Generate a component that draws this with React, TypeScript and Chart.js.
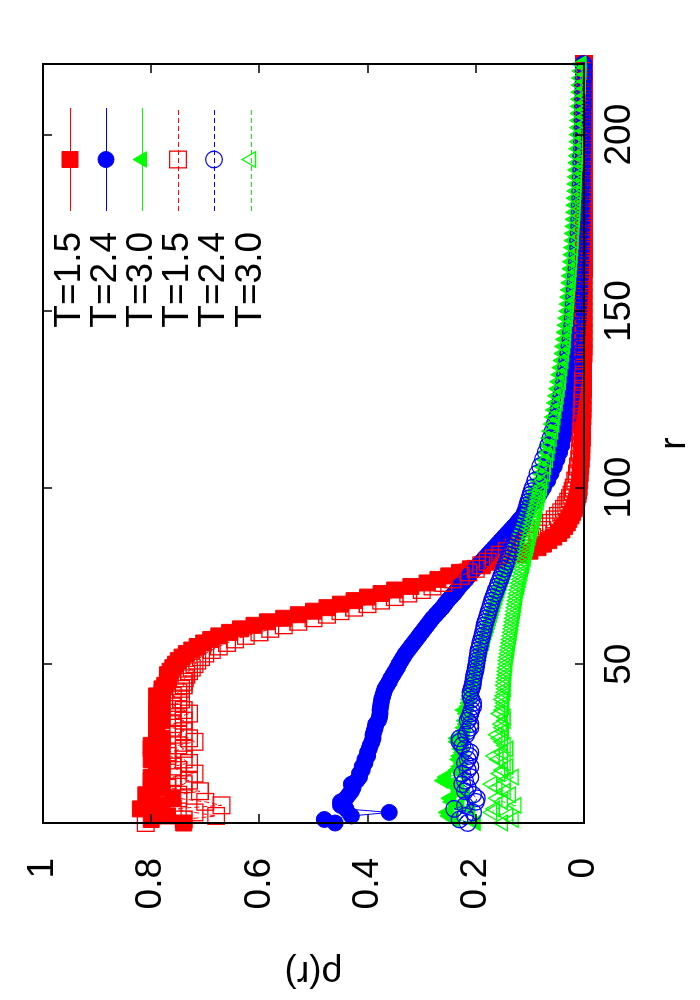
import React, { useEffect, useRef } from "react";
import { Chart, registerables } from "chart.js";

Chart.register(...registerables);

// ---------- data ----------
const rValues = [
  5, 6, 7, 8, 9, 10, 11, 12, 13, 14,
  15, 16, 17, 18, 19, 20, 21, 22, 23, 24,
  25, 26, 27, 28, 29, 30, 31, 32, 33, 34,
  35, 36, 37, 38, 39, 40, 41, 42, 43, 44,
  45, 46, 47, 48, 49, 50, 51, 52, 53, 54,
  55, 56, 57, 58, 59, 60, 61, 62, 63, 64,
  65, 66, 67, 68, 69, 70, 71, 72, 73, 74,
  75, 76, 77, 78, 79, 80, 81, 82, 83, 84,
  85, 86, 87, 88, 89, 90, 91, 92, 93, 94,
  95, 96, 97, 98, 99, 100,
  102, 104, 106, 108, 110, 112, 114, 116, 118, 120,
  122, 124, 126, 128, 130, 132, 134, 136, 138, 140,
  142, 144, 146, 148, 150, 152, 154, 156, 158, 160,
  162, 164, 166, 168, 170, 172, 174, 176, 178, 180,
  182, 184, 186, 188, 190, 192, 194, 196, 198, 200,
  202, 204, 206, 208, 210, 212, 214, 216, 218, 220,
];

const rhoT15Solid = [
  0.74, 0.8, 0.77, 0.79, 0.82, 0.78, 0.8, 0.76, 0.81, 0.8,
  0.79, 0.78, 0.8, 0.8, 0.79, 0.78, 0.78, 0.79, 0.8, 0.78,
  0.79, 0.8, 0.8, 0.78, 0.78, 0.79, 0.79, 0.79, 0.79, 0.78,
  0.78, 0.79, 0.79, 0.78, 0.78, 0.785, 0.79, 0.78, 0.78, 0.775,
  0.77, 0.77, 0.77, 0.765, 0.76, 0.755, 0.75, 0.743, 0.735, 0.725,
  0.715, 0.703, 0.69, 0.675, 0.655, 0.635, 0.61, 0.585, 0.555, 0.528,
  0.5, 0.475, 0.45, 0.425, 0.4, 0.375, 0.35, 0.32, 0.29, 0.27,
  0.25, 0.23, 0.21, 0.188, 0.165, 0.142, 0.12, 0.1, 0.085, 0.075,
  0.065, 0.056, 0.047, 0.041, 0.036, 0.031, 0.028, 0.024, 0.021, 0.018,
  0.016, 0.014, 0.013, 0.011, 0.01, 0.009,
  0.008, 0.007, 0.006, 0.005, 0.004, 0.004, 0.003, 0.003, 0.003, 0.002,
  0.002, 0.002, 0.002, 0.002, 0.001, 0.001, 0.001, 0.001, 0.001, 0.001,
  0.001, 0.001, 0.001, 0.001, 0.001, 0.001, 0.001, 0.001, 0.001, 0.001,
  0, 0, 0, 0, 0, 0, 0, 0, 0, 0,
  0, 0, 0, 0, 0, 0, 0, 0, 0, 0,
  0, 0, 0, 0, 0, 0, 0, 0, 0, 0,
];

const rhoT24Solid = [
  0.46, 0.48, 0.43, 0.36, 0.44, 0.45, 0.45, 0.44, 0.435, 0.43,
  0.427, 0.43, 0.42, 0.415, 0.415, 0.41, 0.41, 0.405, 0.405, 0.4,
  0.4, 0.397, 0.395, 0.392, 0.39, 0.39, 0.388, 0.386, 0.385, 0.38,
  0.378, 0.377, 0.377, 0.376, 0.375, 0.374, 0.372, 0.37, 0.368, 0.364,
  0.36, 0.357, 0.353, 0.349, 0.345, 0.342, 0.338, 0.334, 0.33, 0.325,
  0.32, 0.315, 0.31, 0.305, 0.3, 0.295, 0.29, 0.285, 0.28, 0.274,
  0.268, 0.262, 0.257, 0.252, 0.246, 0.24, 0.235, 0.23, 0.224, 0.218,
  0.213, 0.208, 0.202, 0.196, 0.19, 0.184, 0.178, 0.172, 0.166, 0.16,
  0.154, 0.148, 0.142, 0.136, 0.13, 0.124, 0.119, 0.113, 0.108, 0.103,
  0.098, 0.093, 0.088, 0.083, 0.079, 0.075,
  0.067, 0.061, 0.055, 0.05, 0.045, 0.041, 0.038, 0.035, 0.032, 0.029,
  0.027, 0.025, 0.023, 0.021, 0.019, 0.018, 0.017, 0.016, 0.015, 0.014,
  0.013, 0.012, 0.011, 0.01, 0.009, 0.009, 0.008, 0.007, 0.007, 0.006,
  0.006, 0.005, 0.005, 0.004, 0.004, 0.004, 0.003, 0.003, 0.003, 0.003,
  0.002, 0.002, 0.002, 0.002, 0.002, 0.001, 0.001, 0.001, 0.001, 0.001,
  0.001, 0.001, 0.001, 0.001, 0.001, 0.001, 0.001, 0.001, 0.001, 0.001,
];

const rhoT30Solid = [
  0.2, 0.24, 0.25, 0.253, 0.21, 0.23, 0.245, 0.248, 0.22, 0.23,
  0.235, 0.245, 0.26, 0.255, 0.225, 0.235, 0.23, 0.225, 0.232, 0.23,
  0.225, 0.228, 0.222, 0.235, 0.235, 0.225, 0.22, 0.222, 0.218, 0.22,
  0.215, 0.218, 0.222, 0.215, 0.213, 0.212, 0.21, 0.209, 0.207, 0.205,
  0.204, 0.202, 0.2, 0.199, 0.197, 0.196, 0.194, 0.192, 0.19, 0.189,
  0.187, 0.185, 0.183, 0.182, 0.18, 0.178, 0.176, 0.174, 0.172, 0.17,
  0.168, 0.166, 0.164, 0.162, 0.16, 0.158, 0.156, 0.154, 0.152, 0.15,
  0.147, 0.145, 0.143, 0.14, 0.138, 0.135, 0.133, 0.13, 0.128, 0.125,
  0.123, 0.12, 0.118, 0.115, 0.113, 0.11, 0.108, 0.105, 0.103, 0.1,
  0.098, 0.096, 0.094, 0.092, 0.09, 0.088,
  0.084, 0.08, 0.077, 0.073, 0.07, 0.067, 0.064, 0.062, 0.059, 0.057,
  0.055, 0.053, 0.051, 0.049, 0.047, 0.045, 0.043, 0.041, 0.039, 0.038,
  0.036, 0.035, 0.033, 0.032, 0.03, 0.029, 0.028, 0.027, 0.026, 0.025,
  0.024, 0.023, 0.022, 0.021, 0.02, 0.019, 0.018, 0.018, 0.017, 0.016,
  0.016, 0.015, 0.014, 0.014, 0.013, 0.013, 0.012, 0.011, 0.011, 0.01,
  0.01, 0.009, 0.009, 0.008, 0.008, 0.007, 0.007, 0.006, 0.005, 0.005,
];

const rhoT15Dashed = [
  0.81, 0.74, 0.68, 0.72, 0.76, 0.67, 0.7, 0.75, 0.75, 0.71,
  0.77, 0.74, 0.73, 0.76, 0.72, 0.75, 0.76, 0.73, 0.74, 0.77,
  0.77, 0.74, 0.75, 0.72, 0.73, 0.75, 0.74, 0.76, 0.76, 0.74,
  0.75, 0.73, 0.74, 0.76, 0.75, 0.745, 0.76, 0.75, 0.745, 0.74,
  0.74, 0.738, 0.735, 0.73, 0.725, 0.72, 0.715, 0.708, 0.7, 0.688,
  0.675, 0.66, 0.645, 0.625, 0.6, 0.58, 0.555, 0.528, 0.5, 0.475,
  0.45, 0.425, 0.4, 0.375, 0.35, 0.325, 0.3, 0.28, 0.26, 0.243,
  0.228, 0.214, 0.2, 0.19, 0.178, 0.167, 0.155, 0.143, 0.13, 0.118,
  0.106, 0.096, 0.086, 0.077, 0.069, 0.061, 0.054, 0.048, 0.042, 0.037,
  0.033, 0.029, 0.026, 0.023, 0.021, 0.019,
  0.016, 0.013, 0.011, 0.009, 0.008, 0.007, 0.006, 0.005, 0.004, 0.004,
  0.003, 0.003, 0.003, 0.002, 0.002, 0.002, 0.002, 0.002, 0.001, 0.001,
  0.001, 0.001, 0.001, 0.001, 0.001, 0.001, 0.001, 0.001, 0.001, 0.001,
  0, 0, 0, 0, 0, 0, 0, 0, 0, 0,
  0, 0, 0, 0, 0, 0, 0, 0, 0, 0,
  0, 0, 0, 0, 0, 0, 0, 0, 0, 0,
];

const rhoT24Dashed = [
  0.215, 0.23, 0.22, 0.205, 0.24, 0.22, 0.2, 0.198, 0.205, 0.22,
  0.215, 0.225, 0.22, 0.21, 0.225, 0.215, 0.21, 0.22, 0.215, 0.212,
  0.21, 0.22, 0.225, 0.23, 0.23, 0.218, 0.215, 0.21, 0.21, 0.215,
  0.212, 0.21, 0.208, 0.205, 0.205, 0.208, 0.21, 0.21, 0.208, 0.206,
  0.205, 0.204, 0.203, 0.201, 0.2, 0.199, 0.198, 0.197, 0.196, 0.195,
  0.193, 0.192, 0.19, 0.188, 0.187, 0.185, 0.184, 0.182, 0.18, 0.178,
  0.176, 0.174, 0.172, 0.17, 0.168, 0.165, 0.163, 0.16, 0.158, 0.155,
  0.153, 0.15, 0.148, 0.145, 0.143, 0.14, 0.138, 0.135, 0.133, 0.13,
  0.128, 0.125, 0.123, 0.12, 0.118, 0.115, 0.113, 0.111, 0.109, 0.107,
  0.105, 0.103, 0.101, 0.099, 0.097, 0.095,
  0.09, 0.086, 0.081, 0.076, 0.071, 0.066, 0.062, 0.058, 0.054, 0.05,
  0.047, 0.044, 0.042, 0.039, 0.037, 0.035, 0.033, 0.031, 0.029, 0.027,
  0.025, 0.024, 0.022, 0.021, 0.02, 0.019, 0.018, 0.017, 0.016, 0.015,
  0.014, 0.013, 0.012, 0.011, 0.011, 0.01, 0.009, 0.009, 0.008, 0.008,
  0.007, 0.007, 0.006, 0.006, 0.005, 0.005, 0.005, 0.004, 0.004, 0.004,
  0.003, 0.003, 0.003, 0.002, 0.002, 0.002, 0.002, 0.001, 0.001, 0.001,
];

const rhoT30Dashed = [
  0.15, 0.13, 0.14, 0.17, 0.165, 0.125, 0.15, 0.16, 0.135, 0.145,
  0.16, 0.17, 0.145, 0.13, 0.155, 0.15, 0.14, 0.145, 0.158, 0.165,
  0.15, 0.14, 0.145, 0.15, 0.155, 0.16, 0.148, 0.15, 0.152, 0.145,
  0.145, 0.155, 0.15, 0.148, 0.147, 0.15, 0.148, 0.146, 0.145, 0.147,
  0.146, 0.145, 0.144, 0.144, 0.143, 0.142, 0.142, 0.141, 0.14, 0.139,
  0.138, 0.137, 0.136, 0.135, 0.134, 0.133, 0.132, 0.131, 0.13, 0.129,
  0.128, 0.127, 0.126, 0.125, 0.124, 0.123, 0.122, 0.12, 0.119, 0.117,
  0.116, 0.114, 0.113, 0.111, 0.11, 0.108, 0.107, 0.105, 0.104, 0.102,
  0.101, 0.099, 0.098, 0.096, 0.095, 0.093, 0.092, 0.09, 0.089, 0.087,
  0.086, 0.084, 0.083, 0.081, 0.08, 0.078,
  0.075, 0.072, 0.07, 0.067, 0.064, 0.062, 0.06, 0.057, 0.055, 0.053,
  0.051, 0.049, 0.047, 0.045, 0.043, 0.042, 0.04, 0.038, 0.037, 0.035,
  0.034, 0.033, 0.032, 0.03, 0.029, 0.028, 0.027, 0.026, 0.025, 0.024,
  0.023, 0.022, 0.021, 0.02, 0.019, 0.019, 0.018, 0.017, 0.016, 0.016,
  0.015, 0.014, 0.014, 0.013, 0.013, 0.012, 0.011, 0.011, 0.01, 0.01,
  0.009, 0.009, 0.008, 0.008, 0.007, 0.007, 0.006, 0.006, 0.005, 0.005,
];

const seriesLabels = ["T=1.5", "T=2.4", "T=3.0", "T=1.5", "T=2.4", "T=3.0"];
const rTicks = [50, 100, 150, 200];
const rTickLabels = ["50", "100", "150", "200"];
const rhoTicks = [0, 0.2, 0.4, 0.6, 0.8, 1];
const rhoTickLabels = ["0", "0.2", "0.4", "0.6", "0.8", "1"];
const xTitle = "r";
const yTitle = "ρ(r)";

// ---------- styling ----------
const FONT = '"Liberation Sans", Arial, Helvetica, sans-serif';
const FS = 37;
const RED = "#ff0000";
const BLUE = "#0000ff";
const GREEN = "#00ff00";

type Spec = { values: number[]; color: string; style: "rect" | "circle" | "triangle"; radius: number; filled: boolean; dashed: boolean };

const specs: Spec[] = [
  { values: rhoT15Solid, color: RED, style: "rect", radius: 11.3, filled: true, dashed: false },
  { values: rhoT24Solid, color: BLUE, style: "circle", radius: 8, filled: true, dashed: false },
  { values: rhoT30Solid, color: GREEN, style: "triangle", radius: 9, filled: true, dashed: false },
  { values: rhoT15Dashed, color: RED, style: "rect", radius: 11.8, filled: false, dashed: true },
  { values: rhoT24Dashed, color: BLUE, style: "circle", radius: 8.3, filled: false, dashed: true },
  { values: rhoT30Dashed, color: GREEN, style: "triangle", radius: 9, filled: false, dashed: true },
];

function drawMarker(ctx: CanvasRenderingContext2D, s: Spec, x: number, y: number) {
  ctx.beginPath();
  if (s.style === "rect") {
    const h = s.radius * Math.SQRT1_2;
    ctx.rect(x - h, y - h, 2 * h, 2 * h);
  } else if (s.style === "circle") {
    ctx.arc(x, y, s.radius, 0, Math.PI * 2);
  } else {
    let a = 0;
    ctx.moveTo(x + Math.sin(a) * s.radius, y - Math.cos(a) * s.radius);
    a += (2 * Math.PI) / 3;
    ctx.lineTo(x + Math.sin(a) * s.radius, y - Math.cos(a) * s.radius);
    a += (2 * Math.PI) / 3;
    ctx.lineTo(x + Math.sin(a) * s.radius, y - Math.cos(a) * s.radius);
    ctx.closePath();
  }
  if (s.filled) {
    ctx.fillStyle = s.color;
    ctx.fill();
  }
  ctx.strokeStyle = s.color;
  ctx.lineWidth = s.filled ? 1 : 1.3;
  ctx.stroke();
}

const framePlugin = {
  id: "frameAndKey",
  afterDatasetsDraw(chart: any) {
    const { ctx, chartArea, scales } = chart;
    const { left, right, top, bottom } = chartArea;
    const xs = scales.x;
    const ys = scales.y;
    ctx.save();
    ctx.setLineDash([]);
    ctx.strokeStyle = "#000";
    ctx.lineWidth = 1.5;
    const tl = 9;
    ctx.beginPath();
    rTicks.forEach((v) => {
      const px = Math.round(xs.getPixelForValue(v));
      ctx.moveTo(px, bottom);
      ctx.lineTo(px, bottom - tl);
      ctx.moveTo(px, top);
      ctx.lineTo(px, top + tl);
    });
    rhoTicks.forEach((v) => {
      const py = Math.round(ys.getPixelForValue(v));
      ctx.moveTo(left, py);
      ctx.lineTo(left + tl, py);
      ctx.moveTo(right, py);
      ctx.lineTo(right - tl, py);
    });
    ctx.stroke();
    ctx.lineWidth = 2;
    ctx.strokeRect(left, top, right - left, bottom - top);

    // key
    const textRight = 768;
    const lineStart = 789;
    const lineEnd = 892;
    const rowStart = 70;
    const rowStep = 36.1;
    ctx.font = `${FS}px ${FONT}`;
    ctx.textAlign = "right";
    ctx.textBaseline = "middle";
    specs.forEach((s, i) => {
      const yy = Math.round(rowStart + rowStep * i);
      ctx.fillStyle = "#000";
      ctx.fillText(seriesLabels[i], textRight, yy);
      ctx.strokeStyle = s.color;
      ctx.lineWidth = 1;
      ctx.setLineDash(s.dashed ? [5, 3] : []);
      ctx.beginPath();
      ctx.moveTo(lineStart, yy + 0.5);
      ctx.lineTo(lineEnd, yy + 0.5);
      ctx.stroke();
      ctx.setLineDash([]);
      drawMarker(ctx, s, (lineStart + lineEnd) / 2, yy);
    });
    ctx.restore();
  },
};

export default function App() {
  const canvasRef = useRef<HTMLCanvasElement | null>(null);

  useEffect(() => {
    if (!canvasRef.current) return;
    const datasets = specs.map((s, i) => ({
      label: seriesLabels[i],
      data: rValues.map((r, k) => ({ x: r, y: s.values[k] })),
      showLine: true,
      borderColor: s.color,
      borderWidth: 1,
      borderDash: s.dashed ? [5, 3] : [],
      backgroundColor: s.color,
      pointStyle: s.style,
      pointRadius: s.radius,
      pointBackgroundColor: s.filled ? s.color : "rgba(0,0,0,0)",
      pointBorderColor: s.color,
      pointBorderWidth: s.filled ? 1 : 1.3,
      clip: false as any,
      order: specs.length - i,
    }));

    const chart = new Chart(canvasRef.current, {
      type: "scatter",
      data: { datasets },
      options: {
        animation: false,
        responsive: false,
        devicePixelRatio: 1,
        events: [],
        layout: { padding: { top: 43, right: 64, left: 0, bottom: 0 } },
        plugins: { legend: { display: false }, tooltip: { enabled: false } },
        scales: {
          x: {
            type: "linear",
            position: "bottom",
            min: 5,
            max: 220,
            grid: { display: false, drawTicks: false },
            border: { display: false },
            afterBuildTicks: (scale: any) => {
              scale.ticks = rTicks.map((v) => ({ value: v }));
            },
            afterFit: (scale: any) => {
              scale.height = 116;
              scale.paddingLeft = 0;
              scale.paddingRight = 0;
            },
            ticks: {
              color: "#000",
              padding: 14,
              maxRotation: 0,
              font: { family: FONT, size: FS },
              callback: (v: any) => {
                const i = rTicks.indexOf(Number(v));
                return i >= 0 ? rTickLabels[i] : "";
              },
            },
            title: {
              display: true,
              text: xTitle,
              color: "#000",
              font: { family: FONT, size: FS },
              padding: { top: 0, bottom: 3 },
            },
          },
          y: {
            type: "linear",
            position: "left",
            min: 0,
            max: 1,
            grid: { display: false, drawTicks: false },
            border: { display: false },
            afterBuildTicks: (scale: any) => {
              scale.ticks = rhoTicks.map((v) => ({ value: v }));
            },
            afterFit: (scale: any) => {
              scale.width = 177;
              scale.paddingTop = 0;
              scale.paddingBottom = 0;
            },
            ticks: {
              color: "#000",
              padding: 35,
              font: { family: FONT, size: FS },
              callback: (v: any) => {
                const i = rhoTicks.findIndex((t) => Math.abs(t - Number(v)) < 1e-9);
                return i >= 0 ? rhoTickLabels[i] : "";
              },
            },
            title: {
              display: true,
              text: yTitle,
              color: "#000",
              font: { family: FONT, size: FS },
              padding: { top: 6, bottom: 0 },
            },
          },
        },
      },
      plugins: [framePlugin],
    } as any);
    return () => chart.destroy();
  }, []);

  return (
    <div
      style={{
        position: "fixed",
        left: 0,
        top: 0,
        width: 700,
        height: 1000,
        overflow: "hidden",
        background: "#fff",
      }}
    >
      <canvas
        ref={canvasRef}
        width={1000}
        height={700}
        style={{
          position: "absolute",
          left: -150,
          top: 150,
          width: 1000,
          height: 700,
          transform: "rotate(-90deg)",
        }}
      />
    </div>
  );
}
